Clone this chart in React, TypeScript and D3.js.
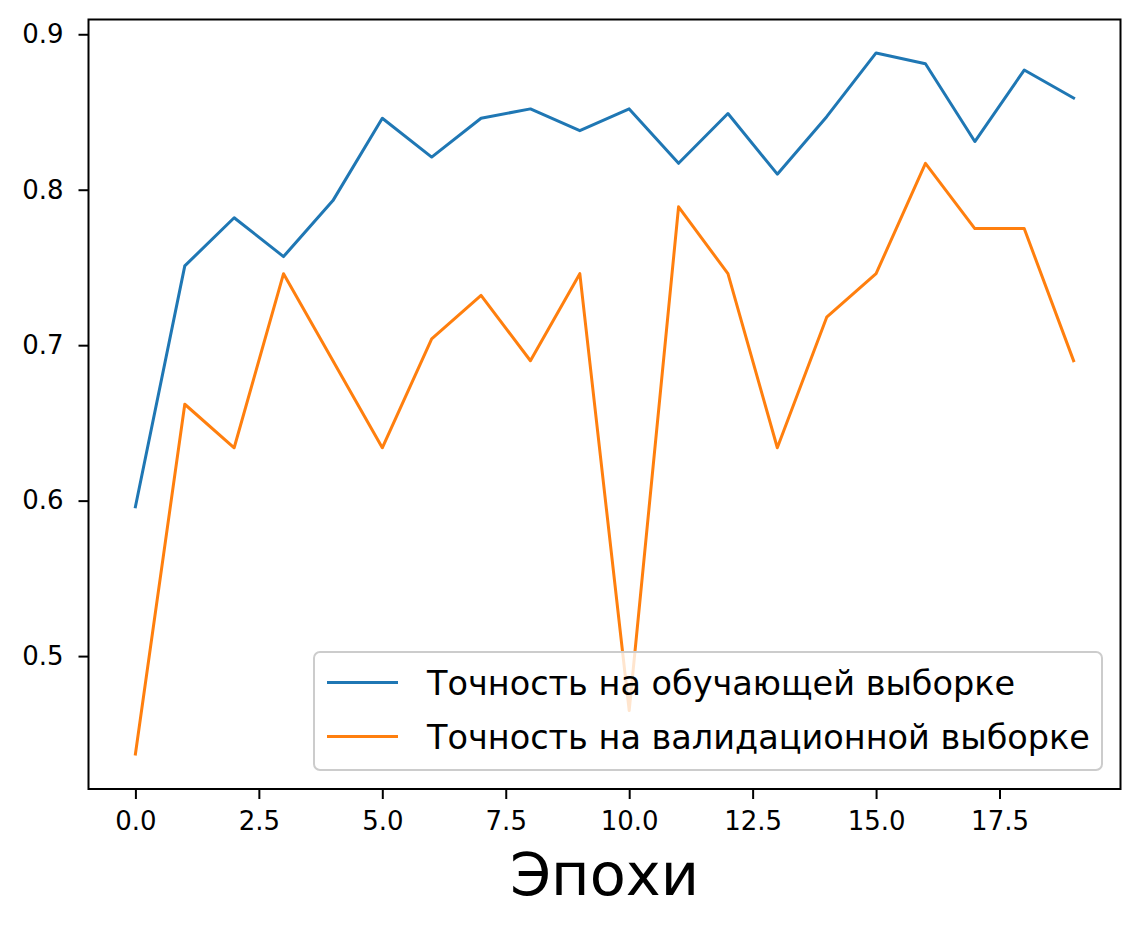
import { useEffect, useRef } from "react";
import * as d3 from "d3";

const epochs = d3.range(0, 20);
const trainAcc = [0.596, 0.751, 0.782, 0.757, 0.793, 0.846, 0.821, 0.846, 0.852, 0.838,
	0.852, 0.817, 0.849, 0.810, 0.847, 0.888, 0.881, 0.831, 0.877, 0.859];
const valAcc = [0.437, 0.662, 0.634, 0.746, 0.690, 0.634, 0.704, 0.732, 0.690, 0.746,
	0.465, 0.789, 0.746, 0.634, 0.718, 0.746, 0.817, 0.775, 0.775, 0.690];
const xTicks = [0, 2.5, 5, 7.5, 10, 12.5, 15, 17.5];
const yTicks = [0.5, 0.6, 0.7, 0.8, 0.9];
const seriesNames = ["Точность на обучающей выборке", "Точность на валидационной выборке"];
const seriesColors = ["#1f77b4", "#ff7f0e"];
const xLabel = "Эпохи";

const W = 1138;
const H = 928;
const FONT = "'DejaVu Sans', sans-serif";

export default function App() {
	const ref = useRef<SVGSVGElement>(null);

	useEffect(() => {
		const svg = d3.select(ref.current);
		svg.selectAll("*").remove();

		const left = 88.5, right = 1120.5, top = 19.5, bottom = 789;

		const x = d3.scaleLinear().domain([-0.95, 19.95]).range([left, right]);
		const y = d3.scaleLinear().domain([0.4145, 0.9095]).range([bottom, top]);

		svg.append("rect").attr("width", W).attr("height", H).attr("fill", "#fff");

		// lines
		const line = d3.line<number>()
			.x((_, i) => x(epochs[i]))
			.y(d => y(d));

		[trainAcc, valAcc].forEach((vals, i) => {
			svg.append("path")
				.datum(vals)
				.attr("d", line)
				.attr("fill", "none")
				.attr("stroke", seriesColors[i])
				.attr("stroke-width", 3)
				.attr("stroke-linejoin", "round")
				.attr("stroke-linecap", "square");
		});

		// axes
		const xAxis = svg.append("g")
			.attr("transform", `translate(0,${bottom})`)
			.call(d3.axisBottom(x).tickValues(xTicks).tickFormat(d3.format(".1f")).tickSize(10).tickPadding(13));
		const yAxis = svg.append("g")
			.attr("transform", `translate(${left},0)`)
			.call(d3.axisLeft(y).tickValues(yTicks).tickFormat(d3.format(".1f")).tickSize(10).tickPadding(15));

		[xAxis, yAxis].forEach(a => {
			a.attr("font-size", null).attr("font-family", null);
			a.select(".domain").remove();
			a.selectAll(".tick line").attr("stroke", "#000").attr("stroke-width", 2);
			a.selectAll(".tick text")
				.attr("fill", "#000")
				.style("font-family", FONT)
				.style("font-size", "26px");
		});

		// frame
		svg.append("rect")
			.attr("x", left)
			.attr("y", top)
			.attr("width", right - left)
			.attr("height", bottom - top)
			.attr("fill", "none")
			.attr("stroke", "#000")
			.attr("stroke-width", 2);

		// x label
		svg.append("text")
			.attr("x", (left + right) / 2)
			.attr("y", 895)
			.attr("text-anchor", "middle")
			.attr("font-family", FONT)
			.attr("font-size", "59px")
			.attr("fill", "#000")
			.text(xLabel);

		// legend
		const lg = svg.append("g").attr("transform", "translate(314,652)");
		lg.append("rect")
			.attr("width", 788)
			.attr("height", 118)
			.attr("rx", 6)
			.attr("fill", "#fff")
			.attr("fill-opacity", 0.8)
			.attr("stroke", "#cccccc")
			.attr("stroke-width", 2);

		seriesNames.forEach((name, i) => {
			const cy = 30.5 + i * 54;
			lg.append("line")
				.attr("x1", 13)
				.attr("x2", 84)
				.attr("y1", cy)
				.attr("y2", cy)
				.attr("stroke", seriesColors[i])
				.attr("stroke-width", 3);
			lg.append("text")
				.attr("x", 113)
				.attr("y", cy + 12.5)
				.attr("font-family", FONT)
				.attr("font-size", "33.5px")
				.attr("fill", "#000")
				.text(name);
		});
	}, []);

	return (
		<svg
			ref={ref}
			width={W}
			height={H}
			style={{ position: "absolute", left: 0, top: 0, display: "block" }}
		/>
	);
}
